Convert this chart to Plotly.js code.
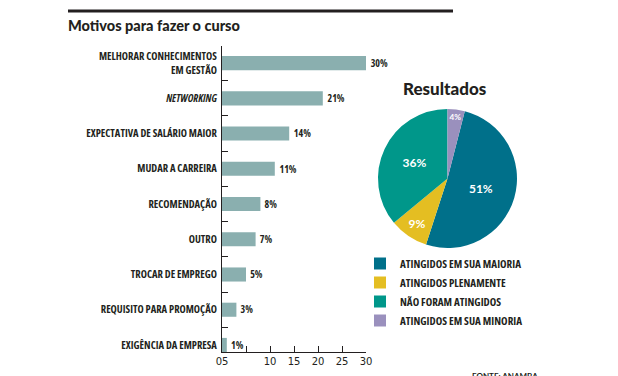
<!DOCTYPE html>
<html>
<head>
<meta charset="utf-8">
<script src="https://cdn.plot.ly/plotly-3.0.1.min.js"></script>
<style>
html,body{margin:0;padding:0;background:#fff}
#chart{width:618px;height:376px}
#chart .ytick text, #chart .legendtext, #chart .bartext { font-stretch: 75% !important; }
</style>
</head>
<body>
<div id="chart"></div>
<script>
var categories = [
  "MELHORAR CONHECIMENTOS<br>EM GESTÃO",
  "<i>NETWORKING</i>",
  "EXPECTATIVA DE SALÁRIO MAIOR",
  "MUDAR A CARREIRA",
  "RECOMENDAÇÃO",
  "OUTRO",
  "TROCAR DE EMPREGO",
  "REQUISITO PARA PROMOÇÃO",
  "EXIGÊNCIA DA EMPRESA"
];
var values = [30, 21, 14, 11, 8, 7, 5, 3, 1];
var xTickVals = [0, 5, 10, 15, 20, 25, 30];
var xTickText = ["05", "", "10", "15", "20", "25", "30"];

var pieLabels = ["ATINGIDOS EM SUA MAIORIA", "ATINGIDOS PLENAMENTE", "NÃO FORAM ATINGIDOS", "ATINGIDOS EM SUA MINORIA"];
var pieValues = [51, 9, 36, 4];
var pieColors = ["#00708a", "#e4be22", "#00978a", "#9a90bd"];

var dark = "#231f20";
var cond = "Open Sans, sans-serif";
var W = 618, H = 376;
var total = pieValues.reduce(function(a,b){return a+b;}, 0);

var bar = {
  type: "bar",
  orientation: "h",
  y: categories,
  x: values,
  marker: {color: "#8aafaf"},
  width: 0.4,
  text: values.map(function(v){return v + "%";}),
  textposition: "outside",
  textfont: {family: cond, size: 12, color: dark, weight: "bold"},
  cliponaxis: false,
  hoverinfo: "none",
  showlegend: false,
  xaxis: "x", yaxis: "y"
};

var pie = {
  type: "pie",
  labels: pieLabels,
  values: pieValues,
  marker: {colors: pieColors},
  sort: false,
  direction: "clockwise",
  rotation: pieValues[3] / total * 360,
  texttemplate: "%{value}%",
  textposition: "inside",
  insidetextorientation: "horizontal",
  textfont: {family: "Lato, sans-serif", size: 12, color: "#ffffff", weight: "bold"},
  domain: {x: [378/W, 517/W], y: [1 - 248/H, 1 - 109/H]},
  hoverinfo: "none",
  showlegend: true
};

var layout = {
  width: W, height: H,
  margin: {l: 0, r: 0, t: 0, b: 0},
  paper_bgcolor: "#ffffff",
  plot_bgcolor: "rgba(0,0,0,0)",
  showlegend: true,
  legend: {
    x: 360/W, y: 1 - 249/H, xanchor: "left", yanchor: "top",
    font: {family: cond, size: 11, color: dark, weight: "bold"},
    itemwidth: 30, tracegroupgap: 0,
    bgcolor: "rgba(0,0,0,0)"
  },
  title: {
    text: "Motivos para fazer o curso",
    x: 68/W, xanchor: "left", xref: "paper",
    y: 1 - 26/H, yanchor: "middle", yref: "paper",
    font: {family: "Lato, sans-serif", size: 14.5, color: dark, weight: 900}
  },
  xaxis: {
    domain: [222/W, 366/W],
    range: [0, 30],
    tickvals: xTickVals, ticktext: xTickText,
    ticks: "inside", ticklen: 6, tickcolor: dark, tickwidth: 1,
    showline: true, linecolor: dark, linewidth: 1,
    showgrid: false, zeroline: false,
    tickfont: {family: "DejaVu Sans, sans-serif", size: 10, color: dark},
    fixedrange: true
  },
  yaxis: {
    domain: [1 - 352/H, 1 - 45.5/H],
    type: "category",
    categoryorder: "array", categoryarray: categories,
    range: [8.2, -0.5],
    ticks: "inside", tickson: "boundaries", ticklen: 6, tickcolor: dark, tickwidth: 1,
    showline: true, linecolor: dark, linewidth: 1,
    showgrid: false, zeroline: false,
    tickfont: {family: cond, size: 10.5, color: dark, weight: "bold"},
    ticklabelstandoff: 2,
    fixedrange: true
  },
  shapes: [
    {type: "line", xref: "paper", yref: "paper", x0: 68/W, x1: 453/W, y0: 1 - 11/H, y1: 1 - 11/H,
     line: {color: dark, width: 3}}
  ],
  annotations: [
    {text: "Resultados", xref: "paper", yref: "paper", x: 445/W, y: 1 - 89/H,
     xanchor: "center", yanchor: "middle", showarrow: false,
     font: {family: "Lato, sans-serif", size: 17, color: dark, weight: 900}},
    {text: "FONTE: ANAMBA", xref: "paper", yref: "paper", x: 470/W, y: 1 - 369/H,
     xanchor: "left", yanchor: "top", showarrow: false,
     font: {family: "Lato, sans-serif", size: 8, color: dark, weight: "bold"}}
  ]
};

Plotly.newPlot("chart", [bar, pie], layout, {displayModeBar: false, staticPlot: true});
</script>
</body>
</html>
